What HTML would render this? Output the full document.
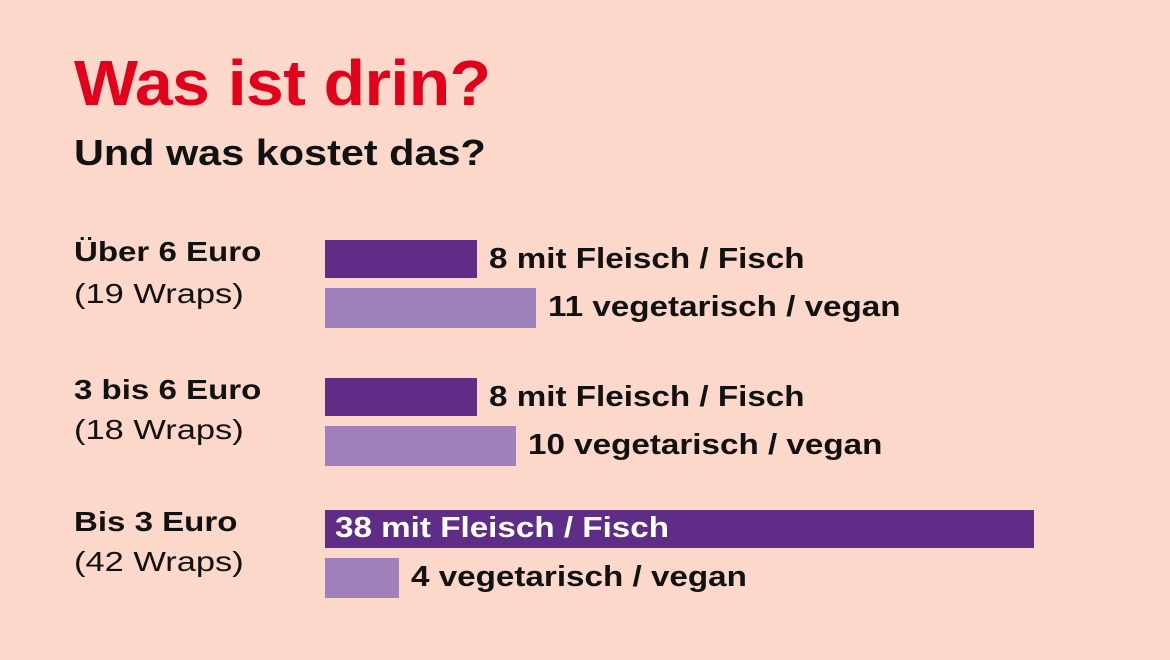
<!DOCTYPE html>
<html><head><meta charset="utf-8"><style>
body{margin:0;width:1170px;height:660px;background:#fbd8ca;font-family:"Liberation Sans",sans-serif;position:relative;overflow:hidden;color:#111}
.a{position:absolute;white-space:nowrap;transform-origin:0 0}
.t{left:74px;top:46px;font-size:64px;font-weight:bold;color:#e2001a;letter-spacing:-0.5px;transform:scaleX(1.06)}
.s{left:74px;top:132px;font-size:36px;font-weight:bold;transform:scaleX(1.15)}
.g{font-size:28px;font-weight:bold;transform:scaleX(1.18)}
.w{font-size:28px;transform:scaleX(1.23)}
.b{position:absolute;left:325px}
.d{background:#5f2d88}
.l{background:#9e80bb}
.bl{font-size:29px;font-weight:bold;transform:scaleX(1.145)}
</style></head><body>
<div class="a t">Was ist drin?</div>
<div class="a s">Und was kostet das?</div>

<div class="a g" style="left:74px;top:236px">Über 6 Euro</div>
<div class="a w" style="left:74px;top:278px">(19 Wraps)</div>
<div class="b d" style="top:240px;width:152px;height:38px"></div>
<div class="a bl" style="left:489px;top:243px">8 mit Fleisch / Fisch</div>
<div class="b l" style="top:288px;width:211px;height:40px"></div>
<div class="a bl" style="left:548px;top:291px">11 vegetarisch / vegan</div>

<div class="a g" style="left:74px;top:374px">3 bis 6 Euro</div>
<div class="a w" style="left:74px;top:414px">(18 Wraps)</div>
<div class="b d" style="top:378px;width:152px;height:38px"></div>
<div class="a bl" style="left:489px;top:381px">8 mit Fleisch / Fisch</div>
<div class="b l" style="top:426px;width:191px;height:40px"></div>
<div class="a bl" style="left:528px;top:429px">10 vegetarisch / vegan</div>

<div class="a g" style="left:74px;top:506px">Bis 3 Euro</div>
<div class="a w" style="left:74px;top:546px">(42 Wraps)</div>
<div class="b d" style="top:510px;width:709px;height:38px"></div>
<div class="a bl" style="left:335px;top:512px;color:#fff">38 mit Fleisch / Fisch</div>
<div class="b l" style="top:558px;width:74px;height:40px"></div>
<div class="a bl" style="left:411px;top:561px">4 vegetarisch / vegan</div>
</body></html>
